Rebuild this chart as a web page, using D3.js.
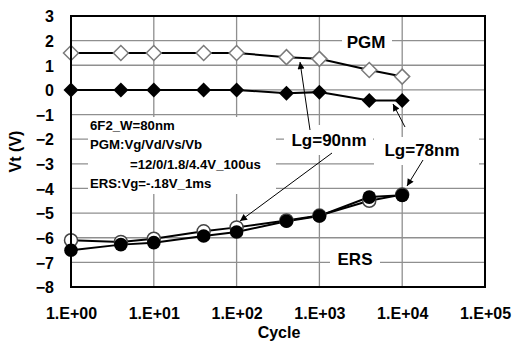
<!DOCTYPE html>
<html><head><meta charset="utf-8">
<script src="https://cdn.jsdelivr.net/npm/d3@7"></script>
<style>
html,body{margin:0;padding:0;background:#fff;}
svg text{font-family:"Liberation Sans",Arial,sans-serif;font-weight:bold;fill:#000;}
</style></head>
<body><svg id="c" width="514" height="343"></svg>
<script>
const cycles = [1, 4, 10, 40, 100, 400, 1000, 4000, 10000];
const pgmLg90 = [1.5, 1.5, 1.5, 1.5, 1.5, 1.33, 1.26, 0.81, 0.54];
const pgmLg78 = [0, 0, 0, 0, 0, -0.14, -0.09, -0.43, -0.43];
const ersLg90 = [-6.1, -6.17, -6.04, -5.74, -5.58, -5.3, -5.1, -4.5, -4.25];
const ersLg78 = [-6.51, -6.28, -6.2, -5.93, -5.77, -5.33, -5.12, -4.35, -4.28];
const xTicks = [1, 10, 100, 1000, 10000, 100000];
const xTickLabels = ["1.E+00", "1.E+01", "1.E+02", "1.E+03", "1.E+04", "1.E+05"];
const yTicks = [3, 2, 1, 0, -1, -2, -3, -4, -5, -6, -7, -8];
const noteLines = ["6F2_W=80nm", "PGM:Vg/Vd/Vs/Vb", "=12/0/1.8/4.4V_100us", "ERS:Vg=-.18V_1ms"];

const svg = d3.select("#c");
const L = 71, R = 485, T = 16, B = 287;
const x = d3.scaleLog().domain([1, 1e5]).range([L, R]);
const y = d3.scaleLinear().domain([-8, 3]).range([B, T]);

// grid
const g = svg.append("g");
g.selectAll("line.h").data(yTicks).enter().append("line")
  .attr("x1", L).attr("x2", R).attr("y1", d => y(d)).attr("y2", d => y(d))
  .attr("stroke", "#8f8f8f").attr("stroke-width", 1.3);
g.selectAll("line.v").data(xTicks).enter().append("line")
  .attr("x1", d => x(d)).attr("x2", d => x(d)).attr("y1", T).attr("y2", B)
  .attr("stroke", "#8f8f8f").attr("stroke-width", 1.3);

// axes (labels only)
const xAxis = d3.axisBottom(x).tickValues(xTicks).tickFormat((d, i) => xTickLabels[i]).tickSize(0).tickPadding(0);
const xa = svg.append("g").attr("transform", `translate(0,${B + 21})`).call(xAxis);
xa.select(".domain").remove();
xa.selectAll("text").attr("font-size", 16).attr("dy", "0.71em");
const yAxis = d3.axisLeft(y).tickValues(yTicks).tickFormat(d3.format("d")).tickSize(0).tickPadding(0);
const ya = svg.append("g").attr("transform", `translate(${L - 17},0)`).call(yAxis);
ya.select(".domain").remove();
ya.selectAll("text").attr("font-size", 16).attr("dy", "0.36em");

svg.append("text").attr("x", 279).attr("y", 337.5).attr("text-anchor", "middle").attr("font-size", 16).text("Cycle");
svg.append("text").attr("transform", `translate(21,${(T + B) / 2}) rotate(-90)`).attr("text-anchor", "middle").attr("font-size", 16).text("Vt (V)");

// text boxes (white background)
function box(x0, y0, w, h) {
  svg.append("rect").attr("x", x0).attr("y", y0).attr("width", w).attr("height", h).attr("fill", "#fff");
}
box(88, 117, 188, 77);
box(342, 30, 50, 22);
box(330, 249, 50, 22);
box(284, 125, 89, 30);
box(374, 137, 105, 28);

const nt = svg.append("g");
const nx = [90, 90, 130, 90], ny = [130, 149, 169, 188];
noteLines.forEach((s, i) => nt.append("text").attr("x", nx[i]).attr("y", ny[i]).attr("font-size", 13.2).text(s));

svg.append("text").attr("x", 366).attr("y", 48).attr("text-anchor", "middle").attr("font-size", 17).text("PGM");
svg.append("text").attr("x", 355).attr("y", 265).attr("text-anchor", "middle").attr("font-size", 17).text("ERS");
svg.append("text").attr("x", 329).attr("y", 146).attr("text-anchor", "middle").attr("font-size", 17).text("Lg=90nm");
svg.append("text").attr("x", 422).attr("y", 156).attr("text-anchor", "middle").attr("font-size", 17).text("Lg=78nm");

// arrows
svg.append("defs").append("marker").attr("id", "ah").attr("viewBox", "0 0 10 10")
  .attr("refX", 10).attr("refY", 5).attr("markerWidth", 8).attr("markerHeight", 7)
  .attr("markerUnits", "userSpaceOnUse").attr("orient", "auto")
  .append("path").attr("d", "M0,0 L10,5 L0,10 Z").attr("fill", "#000");
const arrows = [[310, 130, 300, 62], [332, 153, 240, 221], [405, 127, 393, 104], [423, 160, 407, 186]];
arrows.forEach(a => svg.append("line").attr("x1", a[0]).attr("y1", a[1]).attr("x2", a[2]).attr("y2", a[3])
  .attr("stroke", "#000").attr("stroke-width", 1).attr("marker-end", "url(#ah)"));

// series
const line = d3.line().x(d => x(d[0])).y(d => y(d[1]));
function series(vals) { return cycles.map((c, i) => [c, vals[i]]); }
const diamond = "M0,-7.5L7.5,0L0,7.5L-7.5,0Z";

function drawLine(vals) {
  svg.append("path").datum(series(vals)).attr("d", line).attr("fill", "none").attr("stroke", "#000").attr("stroke-width", 2);
}
drawLine(pgmLg90); drawLine(pgmLg78); drawLine(ersLg90); drawLine(ersLg78);

svg.append("g").selectAll("path").data(series(pgmLg90)).enter().append("path")
  .attr("d", diamond).attr("transform", d => `translate(${x(d[0])},${y(d[1])})`)
  .attr("fill", "#fff").attr("stroke", "#7a7a7a").attr("stroke-width", 1.5);
svg.append("g").selectAll("path").data(series(pgmLg78)).enter().append("path")
  .attr("d", diamond).attr("transform", d => `translate(${x(d[0])},${y(d[1])})`)
  .attr("fill", "#000");
svg.append("g").selectAll("circle").data(series(ersLg90)).enter().append("circle")
  .attr("cx", d => x(d[0])).attr("cy", d => y(d[1])).attr("r", 6.5)
  .attr("fill", "#fff").attr("stroke", "#444").attr("stroke-width", 1.5);
svg.append("g").selectAll("circle").data(series(ersLg78)).enter().append("circle")
  .attr("cx", d => x(d[0])).attr("cy", d => y(d[1])).attr("r", 6.8)
  .attr("fill", "#000");

// border
svg.append("rect").attr("x", L).attr("y", T).attr("width", R - L).attr("height", B - T)
  .attr("fill", "none").attr("stroke", "#000").attr("stroke-width", 2);
</script></body></html>
